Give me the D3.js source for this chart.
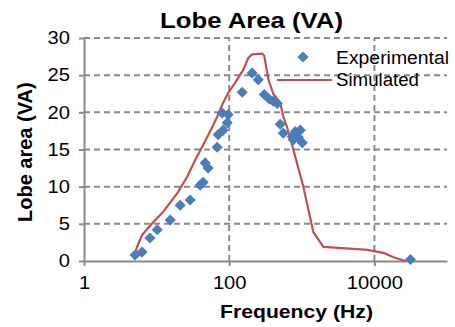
<!DOCTYPE html>
<html>
<head>
<meta charset="utf-8">
<script src="https://cdn.jsdelivr.net/npm/d3@7"></script>
<style>
  body { margin: 0; background: #fff; }
  text { font-family: "Liberation Sans", Arial, sans-serif; fill: #000; }
</style>
</head>
<body>
<svg id="chart" width="455" height="327"></svg>
<script>
// values
var expFreq = [5.05, 6.3, 8.1, 10.2, 15.4, 21.1, 29, 39.8, 43.8, 46.7, 51.3, 68.3, 70.5, 82.6, 93.8, 80, 96.9,
               151, 207, 251, 304, 356, 404, 459, 505, 556, 740, 813, 953, 895, 1016, 764, 31400];
var expVal  = [0.8, 1.2, 3.1, 4.2, 5.5, 7.5, 8.2, 10.2, 10.6, 13.2, 12.5, 15.3, 17, 17.6, 18.6, 19.9, 19.7,
               22.7, 25.3, 24.4, 22.4, 21.8, 21.5, 21.2, 18.4, 17.2, 16.7, 17.4, 17.6, 16.6, 15.9, 16.3, 0.2];

var simFreq = [5.05, 5.38, 6.31, 8.95, 12.3, 19.2, 26.3, 34, 43.8, 58.3, 68.3, 82.6, 96.9, 121, 156, 183, 207,
               285, 304, 345, 404, 505, 556, 631, 740, 1050, 1442, 1982, 5830, 8000, 13300, 18300, 26800];
var simVal  = [1.0, 1.9, 3.5, 5.2, 6.6, 9.1, 11.3, 13.6, 15.6, 18.0, 19.4, 21.3, 22.6, 24.0, 25.7, 27.3, 27.8,
               27.9, 27.6, 24.5, 22.5, 21.3, 19.4, 17.9, 15.5, 10.0, 3.9, 1.9, 1.6, 1.5, 1.1, 0.5, 0];

var xTicks = [1, 100, 10000];
var yTicks = [0, 5, 10, 15, 20, 25, 30];
var seriesNames = ["Experimental", "Simulated"];

var blue = "#4a7ebb", red = "#c0504d", grid = "#8a8a8a";
var stretch = 1.12; // reference text looks a bit wide

var svg = d3.select("#chart");
var x = d3.scaleLog().domain([1, 100000]).range([84, 447]);
var y = d3.scaleLinear().domain([0, 30]).range([261, 38]);

// grid
svg.append("g").selectAll("line").data(yTicks.filter(d => d > 0)).join("line")
  .attr("x1", x.range()[0]).attr("x2", x.range()[1])
  .attr("y1", d => y(d)).attr("y2", d => y(d))
  .attr("stroke", grid).attr("stroke-width", 2).attr("stroke-dasharray", "6,4");
svg.append("g").selectAll("line").data(xTicks.filter(d => d > 1)).join("line")
  .attr("x1", d => x(d)).attr("x2", d => x(d))
  .attr("y1", y(0)).attr("y2", y(30))
  .attr("stroke", grid).attr("stroke-width", 2).attr("stroke-dasharray", "6,4");

// axes
var xAxis = svg.append("g").attr("transform", "translate(0," + y(0) + ")")
  .call(d3.axisBottom(x).tickValues(xTicks).tickFormat(d3.format("d")).tickSize(5).tickPadding(9).tickSizeOuter(0));
var yAxis = svg.append("g").attr("transform", "translate(" + x(1) + ",0)")
  .call(d3.axisLeft(y).tickValues(yTicks).tickSize(5).tickPadding(9).tickSizeOuter(0));
[xAxis, yAxis].forEach(function(a) {
  a.select(".domain").attr("stroke", grid).attr("stroke-width", 2);
  a.selectAll(".tick line").attr("stroke", grid).attr("stroke-width", 2);
  a.selectAll("text").style("font-family", '"Liberation Sans", Arial, sans-serif')
    .style("font-size", "18px").attr("fill", "#000");
});
xAxis.selectAll("text").attr("dy", "0.8em");

// simulated line
var line = d3.line().x((d, i) => x(simFreq[i])).y(d => y(d));
svg.append("path").datum(simVal).attr("d", line)
  .attr("fill", "none").attr("stroke", red).attr("stroke-width", 2.2).attr("stroke-linejoin", "round");

// experimental diamonds
var diamond = d3.symbol().type(d3.symbolSquare).size(62);
svg.append("g").selectAll("path").data(expVal).join("path")
  .attr("d", diamond)
  .attr("transform", (d, i) => "translate(" + x(expFreq[i]) + "," + y(d) + ") rotate(45)")
  .attr("fill", blue);

// legend
svg.append("path").attr("d", diamond).attr("fill", blue)
  .attr("transform", "translate(303,57) rotate(45)");
svg.append("line").attr("x1", 277).attr("x2", 332).attr("y1", 80).attr("y2", 80)
  .attr("stroke", red).attr("stroke-width", 2.2);
svg.append("text").attr("x", 336).attr("y", 64).style("font-size", "18px")
  .attr("textLength", 113).attr("lengthAdjust", "spacingAndGlyphs").text(seriesNames[0]);
svg.append("text").attr("x", 336).attr("y", 86).style("font-size", "18px")
  .attr("textLength", 83).attr("lengthAdjust", "spacingAndGlyphs").text(seriesNames[1]);

// titles
svg.append("text").attr("x", 160).attr("y", 28).style("font-size", "22px").style("font-weight", "bold")
  .attr("textLength", 183).attr("lengthAdjust", "spacingAndGlyphs").text("Lobe Area (VA)");
svg.append("text").attr("x", 220).attr("y", 318).style("font-size", "19px").style("font-weight", "bold")
  .attr("textLength", 153).attr("lengthAdjust", "spacingAndGlyphs").text("Frequency (Hz)");
svg.append("text").attr("transform", "translate(32,222) rotate(-90)").style("font-size", "20px")
  .style("font-weight", "bold").text("Lobe area (VA)");

// widen tick labels slightly like the reference
svg.selectAll(".tick text").each(function() {
  var w = this.getComputedTextLength();
  d3.select(this).attr("textLength", w * stretch).attr("lengthAdjust", "spacingAndGlyphs");
});
</script>
</body>
</html>
